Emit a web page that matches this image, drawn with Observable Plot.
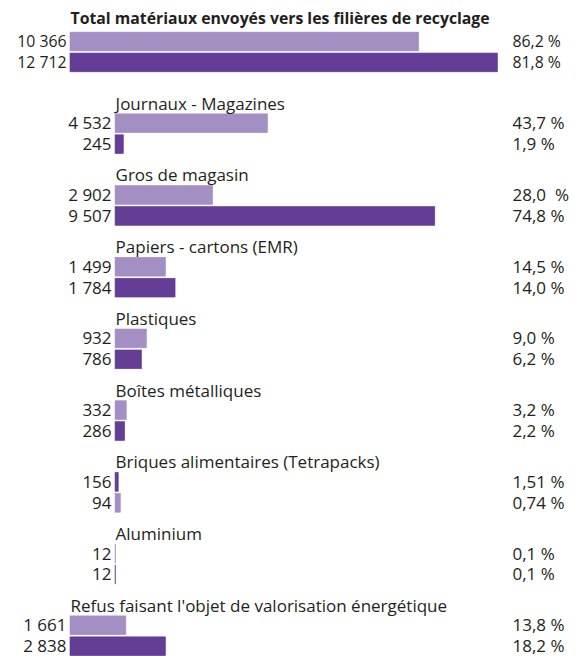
<!DOCTYPE html>
<html>
<head>
<meta charset="utf-8">
<script src="https://cdn.jsdelivr.net/npm/d3@7"></script>
<script src="https://cdn.jsdelivr.net/npm/@observablehq/plot@0.6"></script>
<style>
  html, body { margin: 0; padding: 0; background: #fff; }
  #chart svg text { white-space: pre; }
</style>
</head>
<body>
<div id="chart"></div>
<script>
// ---- data ----
const categories = [
  "Total matériaux envoyés vers les filières de recyclage",
  "Journaux - Magazines",
  "Gros de magasin",
  "Papiers - cartons (EMR)",
  "Plastiques",
  "Boîtes métalliques",
  "Briques alimentaires (Tetrapacks)",
  "Aluminium",
  "Refus faisant l'objet de valorisation énergétique"
];
const tonnesA = [10366, 4532, 2902, 1499, 932, 332, 156, 12, 1661];
const tonnesB = [12712, 245, 9507, 1784, 786, 286, 94, 12, 2838];
const pctA = ["86,2 %", "43,7 %", "28,0\u00a0 %", "14,5 %", "9,0 %", "3,2 %", "1,51 %", "0,1 %", "13,8 %"];
const pctB = ["81,8 %", "1,9 %", "74,8 %", "14,0 %", "6,2 %", "2,2 %", "0,74 %", "0,1 %", "18,2 %"];
const subCategories = categories.slice(1, 8);          // indented under the total
const swappedBars = ["Briques alimentaires (Tetrapacks)"]; // bars drawn in reverse order in the source
const boldCategories = [categories[0]];

// ---- layout helpers (not data) ----
const INDENT = 1340;          // indentation of sub-categories, in x data units
const ROW_B = 0.292;          // second row offset within a group (group units)
const HALF = 0.131;           // half bar height (group units)
const light = "#a48fc4", dark = "#633d96", ink = "#231f20";
const FS = 17, FSB = 15.8;

const fr = d3.formatLocale({decimal: ",", thousands: "\u00a0", grouping: [3], currency: ["", " €"]});
const fmt = fr.format(",d");

const groupPos = (i) => i + (i > 0 ? 0.14 : 0);

const rows = [];
const titles = [];
categories.forEach((c, i) => {
  const g = groupPos(i);
  const start = subCategories.includes(c) ? INDENT : 0;
  const bold = boldCategories.includes(c);
  const swap = swappedBars.includes(c);
  titles.push({c, x: start, y: g - (bold ? 0.325 : 0.272), bold});
  rows.push({c, series: "A", value: tonnesA[i], start, y: g, barY: swap ? g + ROW_B : g, label: fmt(tonnesA[i]), pct: pctA[i], bold});
  rows.push({c, series: "B", value: tonnesB[i], start, y: g + ROW_B, barY: swap ? g : g + ROW_B, label: fmt(tonnesB[i]), pct: pctB[i], bold});
});
const maxTotal = d3.max(tonnesB.concat(tonnesA));

const chart = Plot.plot({
  width: 575,
  height: 656,
  margin: 0,
  style: {fontFamily: "'Open Sans', sans-serif", fontSize: FS + "px", color: ink, background: "#fff"},
  x: {domain: [0, maxTotal], range: [70, 497.5], axis: null},
  y: {domain: [0, groupPos(8)], range: [41.5, 625.3], axis: null},
  color: {domain: ["A", "B"], range: [light, dark]},
  marks: [
    Plot.rect(rows, {
      x1: "start",
      x2: d => d.start + d.value,
      y1: d => d.barY - HALF,
      y2: d => d.barY + HALF,
      fill: "series",
      stroke: "series",
      strokeWidth: 0.6
    }),
    Plot.text(titles.filter(d => !d.bold), {x: "x", y: "y", text: "c", textAnchor: "start", fill: ink, fontSize: FS}),
    Plot.text(titles.filter(d => d.bold), {x: "x", y: "y", text: "c", textAnchor: "start", fill: ink, fontSize: FSB, fontWeight: "bold"}),
    Plot.text(rows, {x: "start", y: "y", text: "label", textAnchor: "end", dx: -4, fill: ink, fontSize: d => d.bold ? FSB : FS, fontWeight: d => d.bold ? "bold" : "normal"}),
    Plot.text(rows, {x: () => maxTotal, y: "y", text: "pct", textAnchor: "start", dx: 14.5, fill: ink, fontSize: d => d.bold ? FSB : FS, fontWeight: d => d.bold ? "bold" : "normal"})
  ]
});
document.getElementById("chart").appendChild(chart);
</script>
</body>
</html>
